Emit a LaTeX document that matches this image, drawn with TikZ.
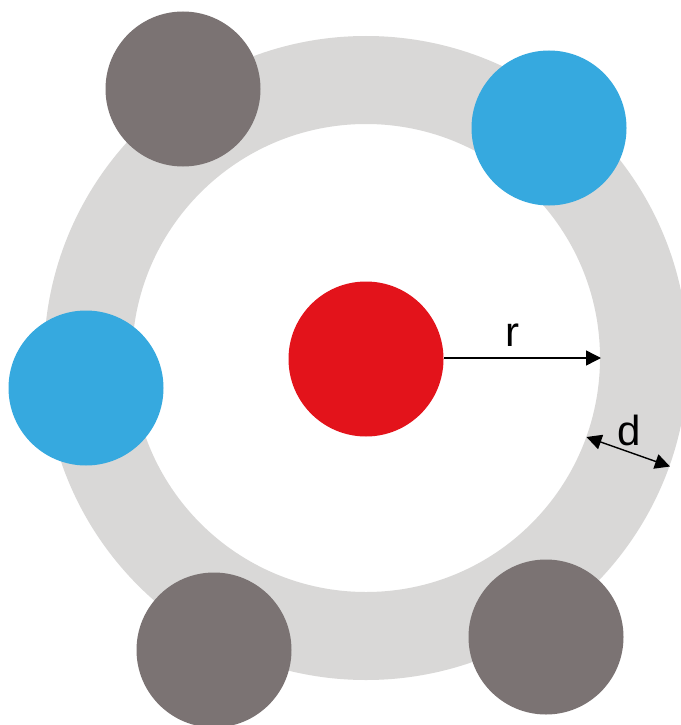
\documentclass[tikz,border=0pt]{standalone}
\usepackage{fontspec}
\setmainfont{Liberation Sans}
\usetikzlibrary{arrows.meta}
\definecolor{ringgray}{HTML}{D9D8D7}
\definecolor{darkgray}{HTML}{7B7373}
\definecolor{bluec}{HTML}{36A9DF}
\definecolor{redc}{HTML}{E3131B}
\tikzset{
  ball/.style={circle, minimum size=155pt, inner sep=0pt, draw=none},
  dimarrow/.style={line width=1.4pt, black},
  tip/.tip={Triangle[length=15pt, width=15pt]},
  lbl/.style={font=\fontsize{42}{42}\selectfont, inner sep=0pt}
}
\begin{document}
\begin{tikzpicture}[x=1pt, y=-1pt]
\useasboundingbox (0,0) rectangle (680,725);
\fill[white] (0,0) rectangle (680,725);
\coordinate (c) at (366,358);
\fill[ringgray, even odd rule] (c) circle[radius=322pt] (c) circle[radius=234pt];
\node[ball, fill=redc] (red) at (366,359) {};
\node[ball, fill=darkgray] (g1) at (183,89) {};
\node[ball, fill=bluec] (b1) at (549,128) {};
\node[ball, fill=bluec] (b2) at (86,388) {};
\node[ball, fill=darkgray] (g2) at (214,650) {};
\node[ball, fill=darkgray] (g3) at (546,637) {};
\coordinate (rstart) at (444,358);
\coordinate (rend) at (601,358);
\coordinate (din) at (586.5,437);
\coordinate (dout) at (670,466.5);
\draw[dimarrow, -tip] (rstart) -- (rend);
\draw[dimarrow, tip-tip] (din) -- (dout);
\node[lbl] (rl) at (512,335) {r};
\node[lbl] (dl) at (629,430) {d};
\end{tikzpicture}
\end{document}
